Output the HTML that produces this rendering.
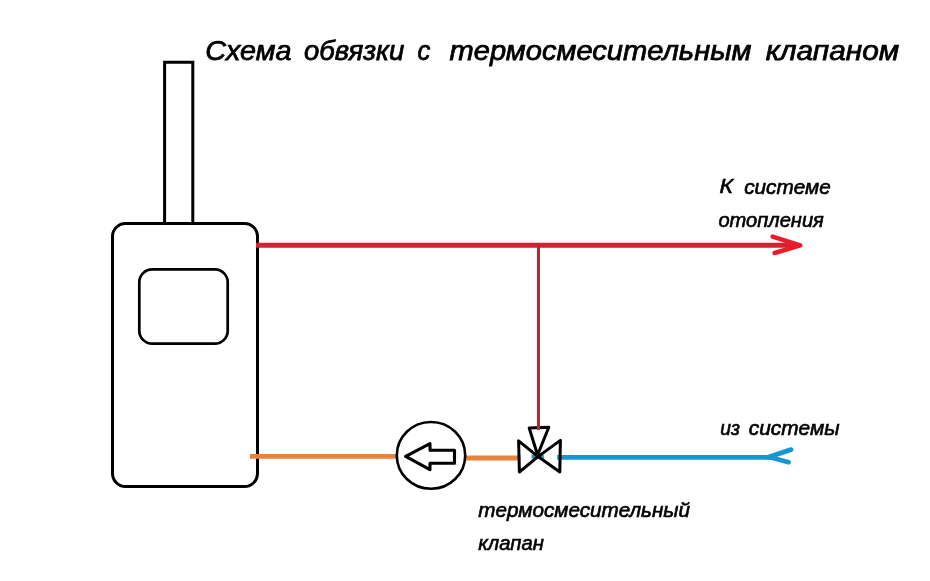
<!DOCTYPE html>
<html>
<head>
<meta charset="utf-8">
<style>
html,body{margin:0;padding:0;background:#fff;}
body{width:930px;height:581px;overflow:hidden;}
svg{display:block;}
#tx{position:absolute;left:0;top:0;will-change:transform;}
text{font-family:"Liberation Sans", sans-serif;fill:#000;stroke:#000;font-style:italic;}
</style>
</head>
<body>
<svg width="930" height="581" viewBox="0 0 930 581">
<rect x="0" y="0" width="930" height="581" fill="#fff"/>

<!-- Chimney -->
<path d="M164.6,223.5 V62.3 H192.8 V223.5" fill="none" stroke="#000" stroke-width="3"/>
<!-- Boiler -->
<rect x="112.5" y="223.5" width="145" height="263" rx="13" ry="13" fill="none" stroke="#000" stroke-width="3"/>
<!-- Window -->
<rect x="139.3" y="269.3" width="88.4" height="74.4" rx="13" ry="13" fill="none" stroke="#000" stroke-width="2.7"/>

<!-- Red supply line -->
<line x1="256" y1="245.3" x2="796" y2="245.3" stroke="#d22332" stroke-width="5"/>
<polyline points="772.6,236.6 800.3,245.3 774.6,253" fill="none" stroke="#e81c2a" stroke-width="4.5" stroke-linecap="round" stroke-linejoin="round"/>
<!-- Red vertical -->
<line x1="538.5" y1="243" x2="538.5" y2="429.7" stroke="#b4283c" stroke-width="3"/>

<!-- Orange return -->
<line x1="250" y1="456.4" x2="397.6" y2="456.4" stroke="#eb823c" stroke-width="4.8"/>
<line x1="462.8" y1="458" x2="520.5" y2="458" stroke="#eb823c" stroke-width="4.9"/>

<!-- Blue return -->
<line x1="557.2" y1="457.3" x2="772" y2="457.3" stroke="#1597d5" stroke-width="4.8"/>
<line x1="531.5" y1="456.7" x2="543.8" y2="456.7" stroke="#3a8aa0" stroke-width="4"/>
<polyline points="791,449.6 768,457.2" fill="none" stroke="#1597d5" stroke-width="4.8" stroke-linecap="round"/>
<polyline points="771,457.5 788.6,462.2" fill="none" stroke="#1597d5" stroke-width="4.8" stroke-linecap="round"/>

<!-- Pump -->
<ellipse cx="431" cy="455.4" rx="34.2" ry="33.4" fill="#fff" stroke="#000" stroke-width="2.6"/>
<polygon points="405.6,456.4 430,443.7 430,450.2 454.5,450.2 454.5,463.3 430,463.3 430,469.6" fill="none" stroke="#000" stroke-width="3.1" stroke-linejoin="round"/>

<!-- Valve -->
<polygon points="518.6,440.8 519.4,472 538,456.6" fill="none" stroke="#000" stroke-width="3" stroke-linejoin="round"/>
<polygon points="560.4,440.4 559.8,472 538,456.6" fill="none" stroke="#000" stroke-width="3" stroke-linejoin="round"/>
<polygon points="529.2,428 548.8,427.2 537.6,455" fill="none" stroke="#000" stroke-width="3" stroke-linejoin="round"/>
<line x1="538.5" y1="425" x2="538.5" y2="429.7" stroke="#b4283c" stroke-width="3"/>
</svg>
<svg id="tx" width="930" height="581" viewBox="0 0 930 581">
<text x="205.25" y="59.9" font-size="27.5" stroke-width="0.75" textLength="86.20" lengthAdjust="spacingAndGlyphs">Схема</text>
<text x="304.00" y="59.9" font-size="27.5" stroke-width="0.75" textLength="100.27" lengthAdjust="spacingAndGlyphs">обвязки</text>
<text x="417.50" y="59.9" font-size="27.5" stroke-width="0.75" textLength="12.87" lengthAdjust="spacingAndGlyphs">с</text>
<text x="449.60" y="59.9" font-size="27.5" stroke-width="0.75" textLength="301.88" lengthAdjust="spacingAndGlyphs">термосмесительным</text>
<text x="765.70" y="59.9" font-size="27.5" stroke-width="0.75" textLength="133.50" lengthAdjust="spacingAndGlyphs">клапаном</text>
<text x="719.60" y="193.4" font-size="20" stroke-width="0.6" textLength="13.52" lengthAdjust="spacingAndGlyphs">К</text>
<text x="744.20" y="193.6" font-size="20" stroke-width="0.6" textLength="86.53" lengthAdjust="spacingAndGlyphs">системе</text>
<text x="718.40" y="227" font-size="20" stroke-width="0.6" textLength="105.41" lengthAdjust="spacingAndGlyphs">отопления</text>
<text x="720.20" y="435.2" font-size="20" stroke-width="0.6" textLength="19.71" lengthAdjust="spacingAndGlyphs">из</text>
<text x="748.80" y="435.2" font-size="20" stroke-width="0.6" textLength="90.81" lengthAdjust="spacingAndGlyphs">системы</text>
<text x="478.30" y="516.6" font-size="20" stroke-width="0.6" textLength="211.72" lengthAdjust="spacingAndGlyphs">термосмесительный</text>
<text x="478.30" y="549.7" font-size="20" stroke-width="0.6" textLength="65.66" lengthAdjust="spacingAndGlyphs">клапан</text>
</svg>
</body>
</html>
